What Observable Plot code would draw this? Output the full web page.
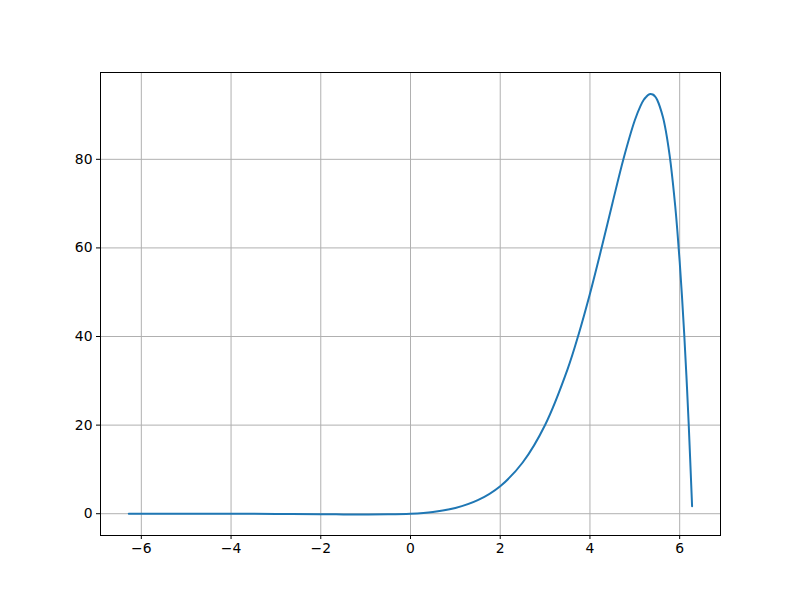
<!DOCTYPE html>
<html>
<head>
<meta charset="utf-8">
<script src="https://cdn.jsdelivr.net/npm/d3@7"></script>
<script src="https://cdn.jsdelivr.net/npm/@observablehq/plot@0.6"></script>
<style>
  html, body { margin: 0; padding: 0; background: #fff; }
</style>
</head>
<body>
<div id="chart"></div>
<script>
const xs = [-6.28, -6, -5, -4, -3, -2, -1.5, -1, -0.5, 0, 0.5, 1, 1.5, 2, 2.5, 3, 3.5, 3.75, 4, 4.25, 4.5, 4.75, 5, 5.125, 5.2, 5.25, 5.3, 5.35, 5.4, 5.45, 5.5, 5.625, 5.7, 5.75, 5.8, 5.9, 5.95, 6, 6.05, 6.1, 6.15, 6.2, 6.2768];
const ys = [0, -0.0004, -0.004, -0.017, -0.050, -0.114, -0.152, -0.176, -0.150, 0, 0.408, 1.303, 3.055, 6.218, 11.561, 20.035, 32.585, 40.57, 49.646, 59.62, 70.04, 80.20, 88.82, 92.02, 93.45, 94.05, 94.56, 94.75, 94.63, 94.20, 93.40, 89.61, 85.93, 82.76, 79.04, 69.52, 63.63, 56.93, 49.32, 40.79, 31.18, 20.49, 1.70];
const xTicks = [-6, -4, -2, 0, 2, 4, 6];
const yTicks = [0, 20, 40, 60, 80];

const data = xs.map((x, i) => ({x, y: ys[i]}));
const fmt = d => (d < 0 ? "\u2212" + Math.abs(d) : String(d));

const chart = Plot.plot({
  width: 800,
  height: 600,
  marginLeft: 100,
  marginRight: 80,
  marginTop: 72,
  marginBottom: 65,
  style: {fontFamily: "DejaVu Sans", fontSize: "13.9px", color: "#000", background: "#fff"},
  x: {domain: [-6.91, 6.91], label: null},
  y: {domain: [-4.92, 99.6], label: null},
  marks: [
    Plot.gridX(xTicks, {stroke: "#b0b0b0", strokeOpacity: 1, strokeWidth: 1}),
    Plot.gridY(yTicks, {stroke: "#b0b0b0", strokeOpacity: 1, strokeWidth: 1}),
    Plot.line(data, {x: "x", y: "y", stroke: "#1f77b4", strokeWidth: 2, curve: "catmull-rom"}),
    Plot.frame({stroke: "#000", strokeWidth: 1}),
    Plot.axisX(xTicks, {tickSize: 4, tickPadding: 4, tickFormat: fmt, fontSize: 13.9, label: null}),
    Plot.axisY(yTicks, {tickSize: 4, tickPadding: 4, tickFormat: fmt, fontSize: 13.9, label: null})
  ]
});
document.getElementById("chart").appendChild(chart);
</script>
</body>
</html>
